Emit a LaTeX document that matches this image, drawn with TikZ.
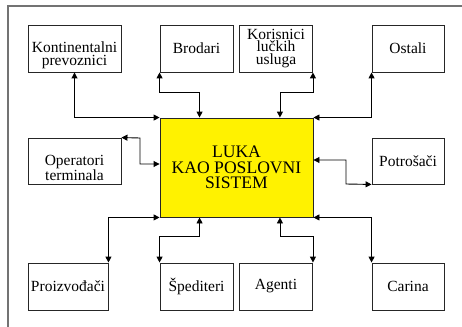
\documentclass[tikz,border=0pt]{standalone}
\usepackage{fontspec}
\setmainfont{Liberation Serif}
\usetikzlibrary{arrows.meta}
% a tall invisible strut that lets a two-line label sit lower in its box
\newcommand{\lowstrut}{\rule{0pt}{25pt}}
\begin{document}
\begin{tikzpicture}[x=1pt,y=-1pt,
  box/.style={draw=black!85,line width=0.9pt,fill=white,inner sep=0pt,
    align=center,font=\fontsize{15.5}{12.8}\selectfont},
  core/.style={draw=black!85,line width=0.9pt,fill=yellow,inner sep=0pt,
    align=center,font=\fontsize{17.6}{15.5}\selectfont},
  link/.style={line width=0.9pt,black,{Triangle[length=6pt,width=6pt]}-{Triangle[length=6pt,width=6pt]}},
  frame/.style={draw=black!55,line width=1.3pt}]
\useasboundingbox (0,0) rectangle (462,326);
% outer frame, only its top and left edges fall inside the page
\draw[frame] (8,330) -- (8,6) -- (466,6);

% central system
\node[core,minimum width=153pt,minimum height=99pt] (luka) at (236.5,167.5) {LUKA\\KAO POSLOVNI\\SISTEM};

% top row
\node[box,minimum width=93pt,minimum height=47pt] (kont) at (74.5,48.5) {\lowstrut Kontinentalni\\prevoznici};
\node[box,minimum width=73pt,minimum height=47pt] (brod) at (196.5,48.5) {Brodari};
\node[box,minimum width=73pt,minimum height=47pt] (kor) at (276,48.5) {Korisnici\\lučkih\\usluga};
\node[box,minimum width=72pt,minimum height=47pt] (ost) at (408,48.5) {Ostali};

% middle row
\node[box,minimum width=93pt,minimum height=46pt] (oper) at (74.5,161) {\lowstrut Operatori\\terminala};
\node[box,minimum width=72pt,minimum height=46pt] (potr) at (408,161) {Potrošači};

% bottom row
\node[box,minimum width=80pt,minimum height=47pt] (proiz) at (68,286.5) {Proizvođači};
\node[box,minimum width=73pt,minimum height=47pt] (sped) at (196.5,286.5) {Špediteri};
\node[box,minimum width=73pt,minimum height=47pt] (agent) at (276,286.5) {Agenti};
\node[box,minimum width=72pt,minimum height=47pt] (car) at (408,286.5) {Carina};

% attachment points on the central box
\coordinate (tA) at ([xshift=40pt]luka.north west);
\coordinate (tB) at ([xshift=-33.5pt]luka.north east);
\coordinate (bA) at ([xshift=40pt]luka.south west);
\coordinate (bB) at ([xshift=-33.5pt]luka.south east);
\coordinate (wA) at ([yshift=3.5pt]luka.west);
\coordinate (eA) at ([yshift=7.5pt]luka.east);
\coordinate (kW) at (140,138);
\coordinate (kE) at (346,184);

% connectors
\draw[link] (kont.south) |- (luka.north west);
\draw[link] (brod.south west) -- ++(0,20) -| (tA);
\draw[link] (kor.south east) -- ++(0,20) -| (tB);
\draw[link] (ost.south west) |- (luka.north east);
\draw[link] (oper.north east) -- (kW) |- (wA);
\draw[link] (potr.south west) -- (kE) |- (eA);
\draw[link] (proiz.north east) |- (luka.south west);
\draw[link] (sped.north west) -- ++(0,-26) -| (bA);
\draw[link] (agent.north east) -- ++(0,-26) -| (bB);
\draw[link] (car.north west) |- (luka.south east);
\end{tikzpicture}
\end{document}
